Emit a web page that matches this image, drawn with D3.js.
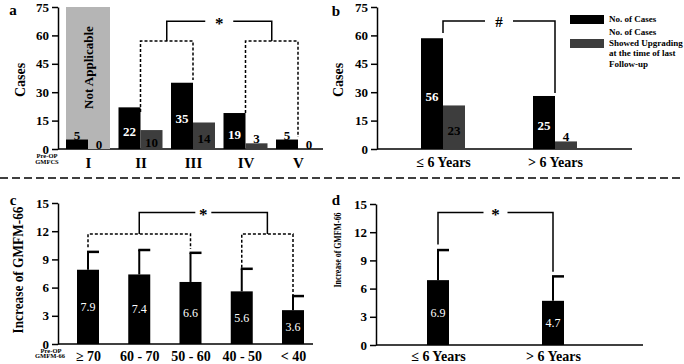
<!DOCTYPE html>
<html>
<head>
<meta charset="utf-8">
<script src="https://cdn.jsdelivr.net/npm/d3@7"></script>
<style>
  body { margin: 0; background: #fff; }
  svg { display: block; font-family: "Liberation Serif", "Times New Roman", serif; font-weight: bold; }
</style>
</head>
<body>
<svg width="684" height="364"></svg>
<script>
// panel a: cases by pre-op GMFCS level
const gmfcsLevels = ["I", "II", "III", "IV", "V"];
const gmfcsCases = [5, 22, 35, 19, 5];
const gmfcsUpgraded = [0, 10, 14, 3, 0];

// panel b: cases by age at surgery
const ageGroups = ["≤ 6 Years", "> 6 Years"];
const ageCases = [56, 25];
const ageCasesDrawn = [58.5, 28]; // black bars are drawn a bit taller than their labels
const ageUpgraded = [23, 4];

// panel c: GMFM-66 increase by pre-op GMFM-66
const gmfmGroups = ["≥ 70", "60 - 70", "50 - 60", "40 - 50", "< 40"];
const gmfmIncrease = [7.9, 7.4, 6.6, 5.6, 3.6];
const gmfmSD = [1.9, 2.6, 3.1, 2.4, 1.5];

// panel d: GMFM-66 increase by age
const ageIncrease = [6.9, 4.7];
const ageSD = [3.2, 2.6];

const casesTicks = [0, 15, 30, 45, 60, 75];
const gmfmTicks = [0, 3, 6, 9, 12, 15];

const serif = '"Liberation Serif", "Times New Roman", serif';
const svg = d3.select("svg");
const gray = "#3d3d3d";

function panel(o) {
    const g = svg.append("g");
    const y = d3.scaleLinear().domain([0, o.max]).range([o.y0, o.y1]);
    const x = d3.scalePoint().domain(o.cats).range(o.xr);
    const idx = d3.scaleLinear().domain([0, o.cats.length - 1]).range(o.xr);

    g.append("g")
        .attr("transform", `translate(${o.ax},0)`)
        .call(d3.axisLeft(y).tickValues(o.ticks).tickSize(6).tickSizeOuter(0).tickPadding(3))
        .attr("font-family", serif).attr("font-size", 13).attr("font-weight", "bold")
        .call(a => a.selectAll("path,line").attr("stroke-width", 1.5));

    g.append("line")
        .attr("x1", o.ax).attr("x2", o.xEnd)
        .attr("y1", y(0)).attr("y2", y(0))
        .attr("stroke", "#000").attr("stroke-width", 1.5);

    g.append("g")
        .attr("transform", `translate(0,${y(0)})`)
        .call(d3.axisBottom(x).tickSize(0).tickPadding(o.pad))
        .attr("font-family", serif).attr("font-size", o.catSize).attr("font-weight", "bold")
        .call(a => a.select(".domain").remove());

    return { g, x, y, idx };
}

function bracket(p, pts, dashed) {
    p.g.append("path")
        .attr("d", d3.line().x(d => p.idx(d[0])).y(d => p.y(d[1]))(pts))
        .attr("fill", "none").attr("stroke", "#000").attr("stroke-width", 1.5)
        .attr("stroke-dasharray", dashed ? "3,2" : null);
}

function topBracket(p, i0, i1, base0, base1, level, gap, sym, size) {
    const xa = p.idx(i0), xb = p.idx(i1), cx = (xa + xb) / 2, yl = p.y(level);
    const seg = [[xa, p.y(base0)], [xa, yl], [cx - gap, yl]];
    const seg2 = [[cx + gap, yl], [xb, yl], [xb, p.y(base1)]];
    [seg, seg2].forEach(s => p.g.append("path")
        .attr("d", d3.line()(s))
        .attr("fill", "none").attr("stroke", "#000").attr("stroke-width", 1.5));
    p.g.append("text")
        .attr("x", cx).attr("y", yl + (sym === "*" ? 8 : 6))
        .attr("text-anchor", "middle").attr("font-size", size)
        .text(sym);
}

function pairedBars(p, black, grayVals, blackLabels, grayLabels) {
    const w = 22;
    p.x.domain().forEach((c, i) => {
        const cx = p.x(c);
        [[black[i], blackLabels[i], cx - w, "#000", "#fff"], [grayVals[i], grayLabels[i], cx, gray, "#000"]]
            .forEach(([v, lab, x0, fill, inText]) => {
                p.g.append("rect")
                    .attr("x", x0).attr("width", w)
                    .attr("y", p.y(v)).attr("height", p.y(0) - p.y(v))
                    .attr("fill", fill);
                const inside = v >= 10;
                p.g.append("text")
                    .attr("x", x0 + w / 2)
                    .attr("y", inside ? (p.y(v) + p.y(0)) / 2 + 3 : p.y(v))
                    .attr("dominant-baseline", inside ? "central" : "auto")
                    .attr("text-anchor", "middle").attr("font-size", 13)
                    .attr("fill", inside ? inText : "#000")
                    .text(lab);
            });
    });
}

function errorBars(p, means, sds) {
    const w = 22;
    p.x.domain().forEach((c, i) => {
        const cx = p.x(c), top = p.y(means[i] + sds[i]);
        p.g.append("rect")
            .attr("x", cx - w / 2).attr("width", w)
            .attr("y", p.y(means[i])).attr("height", p.y(0) - p.y(means[i]))
            .attr("fill", "#000");
        p.g.append("line").attr("x1", cx).attr("x2", cx)
            .attr("y1", p.y(means[i])).attr("y2", top)
            .attr("stroke", "#000").attr("stroke-width", 2);
        p.g.append("line").attr("x1", cx - 1).attr("x2", cx + w / 2)
            .attr("y1", top).attr("y2", top)
            .attr("stroke", "#000").attr("stroke-width", 2.5);
        p.g.append("text")
            .attr("x", cx).attr("y", (p.y(means[i]) + p.y(0)) / 2)
            .attr("dominant-baseline", "central").attr("text-anchor", "middle")
            .attr("font-size", 12).attr("font-weight", "normal").attr("fill", "#fff")
            .text(means[i].toFixed(1));
    });
}

function text(x, y, s, size, rot, extra) {
    const t = svg.append("text")
        .attr("transform", `translate(${x},${y})` + (rot ? " rotate(-90)" : ""))
        .attr("text-anchor", "middle").attr("font-size", size)
        .attr("dominant-baseline", rot ? "central" : "auto")
        .text(s);
    if (extra) extra(t);
    return t;
}

// ---- a ----
const pa = panel({ cats: gmfcsLevels, max: 75, ticks: casesTicks, y0: 149, y1: 7,
    ax: 58, xr: [88, 298], xEnd: 323, pad: 8, catSize: 15 });
pa.g.append("rect")
    .attr("x", pa.x("I") - 22).attr("width", 44)
    .attr("y", pa.y(75)).attr("height", pa.y(0) - pa.y(75))
    .attr("fill", "#b5b5b5");
pa.g.append("text")
    .attr("transform", `translate(${pa.x("I")},${pa.y(43)}) rotate(-90)`)
    .attr("text-anchor", "middle").attr("dominant-baseline", "central")
    .attr("font-size", 13).text("Not Applicable");
pairedBars(pa, gmfcsCases, gmfcsUpgraded, gmfcsCases, gmfcsUpgraded);
bracket(pa, [[1, 19.5], [1, 57], [2, 57], [2, 36.5]], true);
bracket(pa, [[3, 19], [3, 57], [4, 57], [4, 6.3]], true);
topBracket(pa, 1.5, 3.5, 57, 57, 67.5, 14, "*", 17);

// ---- b ----
const pb = panel({ cats: ageGroups, max: 75, ticks: casesTicks, y0: 149, y1: 7,
    ax: 377, xr: [443, 555], xEnd: 632, pad: 8, catSize: 14 });
pairedBars(pb, ageCasesDrawn, ageUpgraded, ageCases, ageUpgraded);
topBracket(pb, 0, 1, 61.3, 29.6, 67.6, 14, "#", 15);

// legend
const legend = [
    { fill: "#000", y: 15, lines: ["No. of Cases"], ty: 22 },
    { fill: gray, y: 39, lines: ["No. of Cases", "Showed Upgrading", "at the time of last", "Follow-up"], ty: 35 }
];
legend.forEach(l => {
    svg.append("rect").attr("x", 570).attr("y", l.y).attr("width", 34).attr("height", 9).attr("fill", l.fill);
    l.lines.forEach((s, i) => svg.append("text")
        .attr("x", 609).attr("y", l.ty + i * 10.7)
        .attr("font-size", 9).text(s));
});

// ---- c ----
const pc = panel({ cats: gmfmGroups, max: 15, ticks: gmfmTicks, y0: 344, y1: 203,
    ax: 58, xr: [88, 293], xEnd: 313, pad: 7, catSize: 14 });
errorBars(pc, gmfmIncrease, gmfmSD);
bracket(pc, [[0, 10.3], [0, 11.7], [2, 11.7], [2, 10.1]], true);
bracket(pc, [[3, 8.1], [3, 11.7], [4, 11.7], [4, 4.9]], true);
topBracket(pc, 1, 3.5, 11.7, 11.7, 14, 8, "*", 17);

// ---- d ----
const pd = panel({ cats: ageGroups, max: 15, ticks: gmfmTicks, y0: 345, y1: 204,
    ax: 376, xr: [438, 553], xEnd: 643, pad: 6, catSize: 14 });
errorBars(pd, ageIncrease, ageSD);
topBracket(pd, 0, 1, 10.7, 7.8, 14.1, 12, "*", 17);

// separator
svg.append("line").attr("x1", 0).attr("x2", 684).attr("y1", 178).attr("y2", 178)
    .attr("stroke", "#000").attr("stroke-width", 1.5).attr("stroke-dasharray", "8,4");

// panel letters and axis titles
text(13, 15, "a", 15);
text(336, 16, "b", 15);
text(13, 205, "c", 15);
text(336, 205, "d", 15);
text(20, 80, "Cases", 14, true);
text(338, 80, "Cases", 14, true);
text(18, 270, "Increase of GMFM-66", 14, true, t => t.attr("textLength", 127).attr("lengthAdjust", "spacingAndGlyphs"));
text(337, 250, "Increase of GMFM-66", 10.5, true, t => t.attr("textLength", 75).attr("lengthAdjust", "spacingAndGlyphs"));

// pre-op captions under the zero tick
text(47, 158, "Pre-OP", 6.5);
text(47, 163.5, "GMFCS", 6.5);
text(51, 352.5, "Pre-OP", 6.5);
text(50, 358, "GMFM-66", 6.5);
</script>
</body>
</html>
